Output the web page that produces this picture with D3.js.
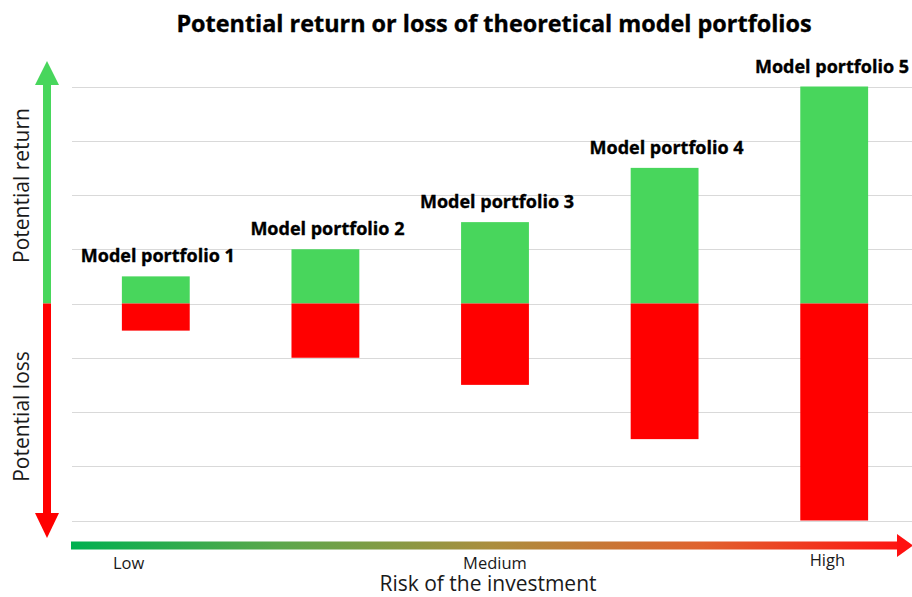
<!DOCTYPE html>
<html>
<head>
<meta charset="utf-8">
<script src="https://cdn.jsdelivr.net/npm/d3@7"></script>
<style>
  html, body { margin: 0; padding: 0; background: #fff; }
  svg { display: block; }
  text { font-family: "Open Sans", "Liberation Sans", sans-serif; }
</style>
</head>
<body>
<svg id="chart" width="912" height="597"></svg>
<script>
// ---- data ----
const portfolios = ["Model portfolio 1", "Model portfolio 2", "Model portfolio 3", "Model portfolio 4", "Model portfolio 5"];
const potentialReturn = [0.5, 1, 1.5, 2.5, 4];
const potentialLoss = [-0.5, -1, -1.5, -2.5, -4];
const gridValues = [-4, -3, -2, -1, 0, 1, 2, 3, 4];
const riskLabels = ["Low", "Medium", "High"];
const riskLabelIndex = [-0.16, 2.0, 3.96]; // position along portfolio index
const titleText = "Potential return or loss of theoretical model portfolios";

// ---- layout ----
const W = 912, H = 597;
const plotLeft = 71, plotRight = 919;
const svg = d3.select("#chart");

const x = d3.scaleBand().domain(portfolios).range([plotLeft, plotRight]).paddingInner(0.6).paddingOuter(0.3);
const y = d3.scaleLinear().domain([-4, 4]).range([520.5, 86.5]);
const xIdx = d3.scaleLinear().domain([0, portfolios.length - 1])
  .range([x(portfolios[0]) + x.bandwidth() / 2, x(portfolios[portfolios.length - 1]) + x.bandwidth() / 2]);

const GREEN = "#48d65c", RED = "#ff0000";

// gradient for risk arrow
const defs = svg.append("defs");
const grad = defs.append("linearGradient").attr("id", "riskGrad")
  .attr("gradientUnits", "userSpaceOnUse").attr("x1", plotLeft).attr("x2", W).attr("y1", 0).attr("y2", 0);
grad.append("stop").attr("offset", "0").attr("stop-color", "#00b050");
grad.append("stop").attr("offset", "0.25").attr("stop-color", "#5ca74b");
grad.append("stop").attr("offset", "0.5").attr("stop-color", "#ab8e3e");
grad.append("stop").attr("offset", "0.75").attr("stop-color", "#e0622e");
grad.append("stop").attr("offset", "1").attr("stop-color", "#ff1010");

// gridlines
svg.append("g").attr("class", "grid")
  .selectAll("line").data(gridValues).join("line")
  .attr("x1", 72).attr("x2", W)
  .attr("y1", d => Math.round(y(d)) + 0.5).attr("y2", d => Math.round(y(d)) + 0.5)
  .attr("stroke", "#d9d9d9").attr("stroke-width", 1);

// bars
svg.append("g").selectAll("rect.ret").data(portfolios).join("rect")
  .attr("class", "ret")
  .attr("x", d => x(d)).attr("width", x.bandwidth())
  .attr("y", (d, i) => y(potentialReturn[i])).attr("height", (d, i) => y(0) - y(potentialReturn[i]))
  .attr("fill", GREEN);
svg.append("g").selectAll("rect.loss").data(portfolios).join("rect")
  .attr("class", "loss")
  .attr("x", d => x(d)).attr("width", x.bandwidth())
  .attr("y", y(0)).attr("height", (d, i) => y(potentialLoss[i]) - y(0))
  .attr("fill", RED);

// bar labels (kept inside the right edge)
svg.append("g").selectAll("text").data(portfolios).join("text")
  .attr("y", (d, i) => y(potentialReturn[i]) - 14)
  .attr("text-anchor", "middle")
  .attr("font-weight", 700).attr("font-size", 18).attr("fill", "#000")
  .attr("stroke", "#000").attr("stroke-width", 0.35)
  .text(d => d)
  .attr("x", function (d) {
    const half = this.getComputedTextLength() / 2;
    const cx = x(d) + x.bandwidth() / 2 + 2;
    return Math.min(cx, W - 3 - half);
  });

// title
svg.append("text").attr("x", 494).attr("y", 32).attr("text-anchor", "middle")
  .attr("font-weight", 700).attr("font-size", 23.4).attr("fill", "#000")
  .attr("stroke", "#000").attr("stroke-width", 0.35).text(titleText);

// vertical arrow (return / loss)
const ax = 47;
const topBase = y(4) - 1.5, topTip = topBase - 24;
const botBase = y(-4) - 7.5, botTip = botBase + 25;
svg.append("rect").attr("x", ax - 4).attr("width", 8).attr("y", topBase).attr("height", y(0) - topBase).attr("fill", GREEN);
svg.append("rect").attr("x", ax - 4).attr("width", 8).attr("y", y(0)).attr("height", botBase - y(0)).attr("fill", RED);
svg.append("path").attr("d", `M${ax - 12},${topBase} L${ax},${topTip} L${ax + 12},${topBase} Z`).attr("fill", GREEN);
svg.append("path").attr("d", `M${ax - 12},${botBase} L${ax},${botTip} L${ax + 12},${botBase} Z`).attr("fill", RED);

svg.append("text").attr("transform", `translate(28.5,185.5) rotate(-90)`)
  .attr("text-anchor", "middle").attr("font-size", 21).attr("fill", "#1a1a1a").text("Potential return");
svg.append("text").attr("transform", `translate(28.5,416.5) rotate(-90)`)
  .attr("text-anchor", "middle").attr("font-size", 21).attr("fill", "#1a1a1a").text("Potential loss");

// horizontal risk arrow
const ay = 545.5;
svg.append("rect").attr("x", plotLeft).attr("y", ay - 4).attr("width", 897 - plotLeft).attr("height", 8).attr("fill", "url(#riskGrad)");
svg.append("path").attr("d", `M897,${ay - 11.5} L${W + 1},${ay} L897,${ay + 11.5} Z`).attr("fill", "#ff1010");

svg.append("g").selectAll("text").data(riskLabels).join("text")
  .attr("x", (d, i) => xIdx(riskLabelIndex[i]))
  .attr("y", (d, i) => i === 2 ? 566 : 569)
  .attr("text-anchor", "middle").attr("font-size", 16.5).attr("fill", "#1a1a1a")
  .text(d => d);

svg.append("text").attr("x", 488).attr("y", 591).attr("text-anchor", "middle")
  .attr("font-size", 21).attr("fill", "#1a1a1a").text("Risk of the investment");
</script>
</body>
</html>
